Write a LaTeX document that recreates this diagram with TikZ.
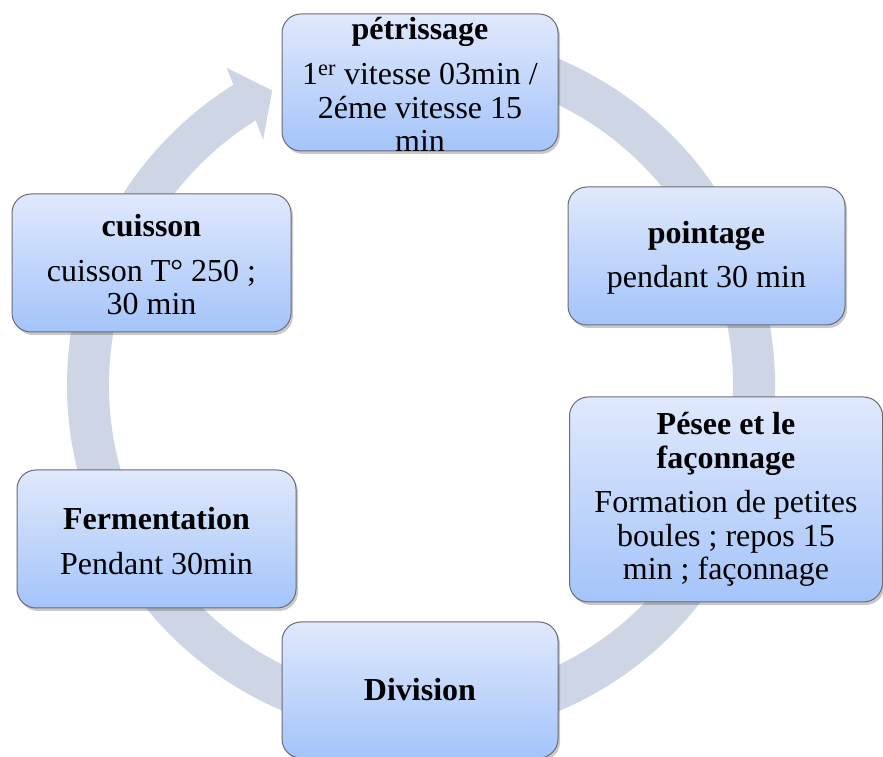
\documentclass[tikz,border=0pt]{standalone}
\usepackage{fontspec}
\setmainfont{Liberation Serif}
\usetikzlibrary{shadows}
\definecolor{ringc}{RGB}{206,214,229}
\definecolor{boxtop}{RGB}{224,233,252}
\definecolor{boxbot}{RGB}{164,196,250}
\definecolor{boxedge}{RGB}{105,108,118}
\begin{document}
\begin{tikzpicture}[x=1pt,y=1pt,
  box/.style={rectangle, rounded corners=19pt, draw=boxedge, line width=1pt,
    top color=boxtop, bottom color=boxbot,
    drop shadow={shadow xshift=2pt, shadow yshift=-3pt, opacity=0.3, fill=black!70},
    inner sep=0pt},
  txt/.style={align=center, font=\fontsize{32}{33.5}\selectfont, inner sep=0pt}]
\useasboundingbox (0,0) rectangle (883,757);
% circular arrow
\begin{scope}[shift={(421,372)}]
\fill[ringc] (100:354) arc[start angle=100,end angle=-238,radius=354]
  -- (121.5:372) -- (116.8:330) -- (122.8:291.5)
  -- (-238:312) arc[start angle=-238,end angle=100,radius=312] -- cycle;
\end{scope}
% boxes
\node[box, minimum width=276, minimum height=137] (b1) at (420,674.5) {};
\node[box, minimum width=277, minimum height=138] (b2) at (706.5,501) {};
\node[box, minimum width=313, minimum height=205] (b3) at (726,257.5) {};
\node[box, minimum width=276, minimum height=136] (b4) at (420,67) {};
\node[box, minimum width=279, minimum height=138] (b5) at (156.5,218) {};
\node[box, minimum width=279, minimum height=138] (b6) at (151.5,494) {};
% texts
\node[txt] (t1) at ([yshift=-2pt]b1) {\textbf{pétrissage}\\[12pt]1\textsuperscript{er} vitesse 03min /\\2éme vitesse 15\\min};
\node[txt] (t2) at ([yshift=-2pt]b2) {\textbf{pointage}\\[11pt]pendant 30 min};
\node[txt] (t3) at (b3) {\textbf{Pésee et le}\\\textbf{façonnage}\\[11pt]Formation de petites\\boules ; repos 15\\min ; façonnage};
\node[txt] (t4) at (b4) {\textbf{Division}};
\node[txt] (t5) at ([yshift=-2pt]b5) {\textbf{Fermentation}\\[11pt]Pendant 30min};
\node[txt] (t6) at ([yshift=-2pt]b6) {\textbf{cuisson}\\[11pt]cuisson T° 250 ;\\30 min};
\end{tikzpicture}
\end{document}
